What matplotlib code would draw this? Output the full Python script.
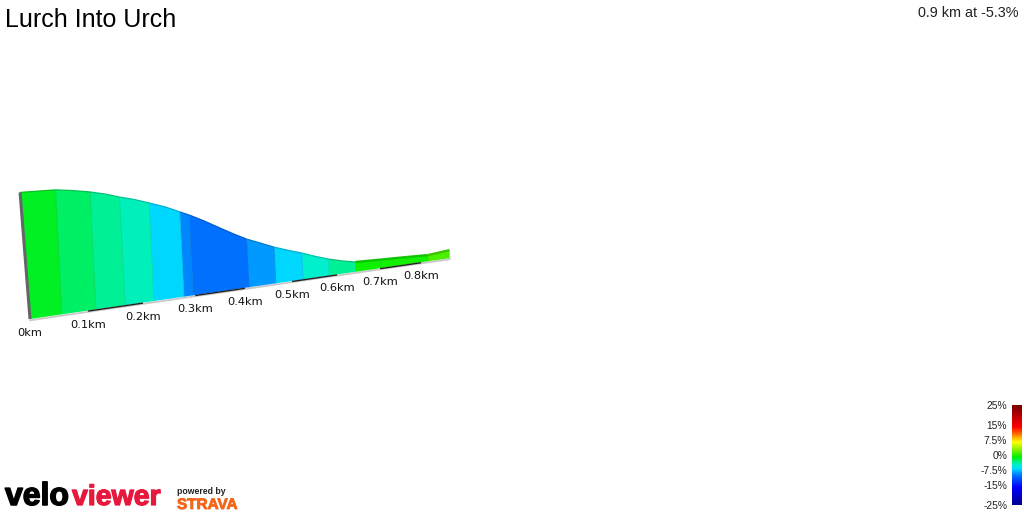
import numpy as np
import matplotlib
matplotlib.use("Agg")
import matplotlib.pyplot as plt
import matplotlib.patheffects as pe
from matplotlib.collections import PolyCollection, LineCollection
from matplotlib.colors import LinearSegmentedColormap, Normalize, to_rgb
from matplotlib.cm import ScalarMappable
from matplotlib.transforms import Transform

plt.rcParams['font.family'] = ['Liberation Sans', 'DejaVu Sans']

TITLE = "Lurch Into Urch"
SUMMARY = "0.9 km at -5.3%"
profile_km = [0, .054, .0824, .114, .1412, .1666, .1944, .2206, .2511, .278, .296, .3253, .3554, .3818,
              .4085, .44, .465, .4954, .524, .5525, .582, .611, .643, .702, .765, .817, .873]
profile_m = [48.8, 48.6, 47.8, 46.6, 45.2, 43.5, 41.9, 40.0, 37.7, 35.1, 33.4, 30.2, 26.6, 23.5,
             20.6, 17.9, 15.7, 13.5, 11.6, 9.4, 7.4, 5.8, 4.4, 3.9, 3.4, 2.9, 3.8]
zone_start_km = [0, .054, .114, .1666, .2206, .278, .296, .4085, .465, .524, .582, .643, .702, .765, .817]
zone_end_km = [.054, .114, .1666, .2206, .278, .296, .4085, .465, .524, .582, .643, .702, .765, .817, .873]
grade_pct = [-.6, -1.8, -2.8, -3.6, -6, -8.5, -9.3, -8, -6, -4, -2.8, .3, .4, .5, 2]
tick_km = [0, .1, .2, .3, .4, .5, .6, .7, .8]
tick_labels = ["0km", "0.1km", "0.2km", "0.3km", "0.4km", "0.5km", "0.6km", "0.7km", "0.8km"]
legend_ticks = [25, 15, 7.5, 0, -7.5, -15, -25]
legend_labels = ["25%", "15%", "7.5%", "0%", "-7.5%", "-15%", "-25%"]
scale_stops = [-25, -15, -9, -6, -4, -2, 0, 3.5, 7.5, 11, 15, 25]
scale_colors = ["#000080", "#0000ff", "#0078ff", "#00d8ff", "#00f0d0", "#00f070", "#00f000",
                "#80f000", "#ffff00", "#ff8000", "#ff0000", "#800000"]


class Perspective(Transform):
    """Oblique view of the ribbon: (km, m) to pixels."""
    input_dims = output_dims = 2

    def transform_non_affine(self, v):
        d, e = np.asarray(v, float).T
        s = 1 / (1 + .274 * d)
        bx = 30 + 596 * d * s
        by = 319 - .145 * (bx - 30)
        h = e * 2.6 * s
        return np.column_stack([bx - .05 * h, by - h])

    transform = transform_non_affine


fig = plt.figure(figsize=(10.24, 5.12), dpi=100)
ax = fig.add_axes([0, 0, 1, 1])
ax.set_xlim(0, 1024)
ax.set_ylim(512, 0)
ax.axis("off")
view = Perspective() + ax.transData

lo, hi = scale_stops[0], scale_stops[-1]
cmap = LinearSegmentedColormap.from_list(
    "grade", [((s - lo) / (hi - lo), c) for s, c in zip(scale_stops, scale_colors)], N=512)
norm = Normalize(lo, hi)

pk, pm = np.array(profile_km), np.array(profile_m)
polys, cols, rims, seps = [], [], [], []
for d0, d1, g in zip(zone_start_km, zone_end_km, grade_pct):
    mask = (pk >= d0) & (pk <= d1)
    top = list(zip(pk[mask], pm[mask]))
    if d0 == zone_start_km[0]:
        # the start wall leans a little further back than the ribbon
        top[0] = (-.006, top[0][1])
    polys.append([(d0, 0), (d1, 0)] + top[::-1])
    cols.append(cmap(norm(g)))
    rims.append(top)
    seps.append([(d1, 0), top[-1]])
ax.add_collection(PolyCollection(polys, facecolors=cols, edgecolors="none", transform=view, zorder=2))

# zone separators and top rim, slightly darker than the fill
dark = [tuple(.9 * c for c in to_rgb(col)) for col in cols]
ax.add_collection(LineCollection(seps[:-1], colors=dark[:-1], linewidths=.6, transform=view, zorder=3))
rim_w = [.9] * 11 + [1.7] * 4
ax.add_collection(LineCollection(rims, colors=[tuple(.9 * c for c in d) for d in dark],
                                 linewidths=rim_w, transform=view, zorder=3))

# base: light shadow, black alternate km stretches, grey start wall
ax.plot([0, zone_end_km[-1]], [-.5, -.5], color="#c8c8c8", lw=1.3, transform=view, zorder=1.5)
for a, b in zip(tick_km[1::2], tick_km[2::2]):
    ax.plot([a, b], [-.2, -.2], color="#222222", lw=1.0, transform=view, zorder=4, solid_capstyle="butt")
ax.plot([-.006, 0], [profile_m[0], 0], color="#666666", lw=2.2, transform=view, zorder=4, solid_capstyle="butt")

for km, lab in zip(tick_km, tick_labels):
    ax.annotate(lab, (km, 0), xycoords=view, xytext=(0, -14 * .72), textcoords="offset points",
                ha="center", va="center", fontsize=8.2, family="DejaVu Sans", color="#111111")

ax.text(5, 20, TITLE, fontsize=18, ha="left", va="center", color="black")
ax.text(1019, 13, SUMMARY, fontsize=10.4, ha="right", va="center", color="#222222")

# logo wordmarks
ax.text(5, 505, "velo", fontsize=23, fontweight="bold", ha="left", va="baseline", color="black",
        path_effects=[pe.withStroke(linewidth=1.1, foreground="black")])
ax.text(72, 505, "viewer", fontsize=20.5, fontweight="bold", ha="left", va="baseline", color="#e8173c",
        path_effects=[pe.withStroke(linewidth=.9, foreground="#e8173c")])
ax.text(177, 492, "powered by", fontsize=6.2, fontweight="bold", ha="left", va="center", color="#222222")
ax.text(177, 509, "STRAVA", fontsize=11, fontweight="bold", ha="left", va="baseline", color="#f4661c",
        path_effects=[pe.withStroke(linewidth=.6, foreground="#f4661c")])

# grade legend
cax = fig.add_axes([1012 / 1024, 1 - 505 / 512, 10 / 1024, 100 / 512])
cb = fig.colorbar(ScalarMappable(norm=norm, cmap=cmap), cax=cax)
cb.outline.set_visible(False)
cb.set_ticks(legend_ticks, labels=legend_labels)
cax.yaxis.set_ticks_position("left")
cax.tick_params(length=0, pad=3.5, labelsize=7.4, labelcolor="#222222")
cb.solids.set_edgecolor("face")

fig.savefig("out.png", dpi=100, facecolor="white")
